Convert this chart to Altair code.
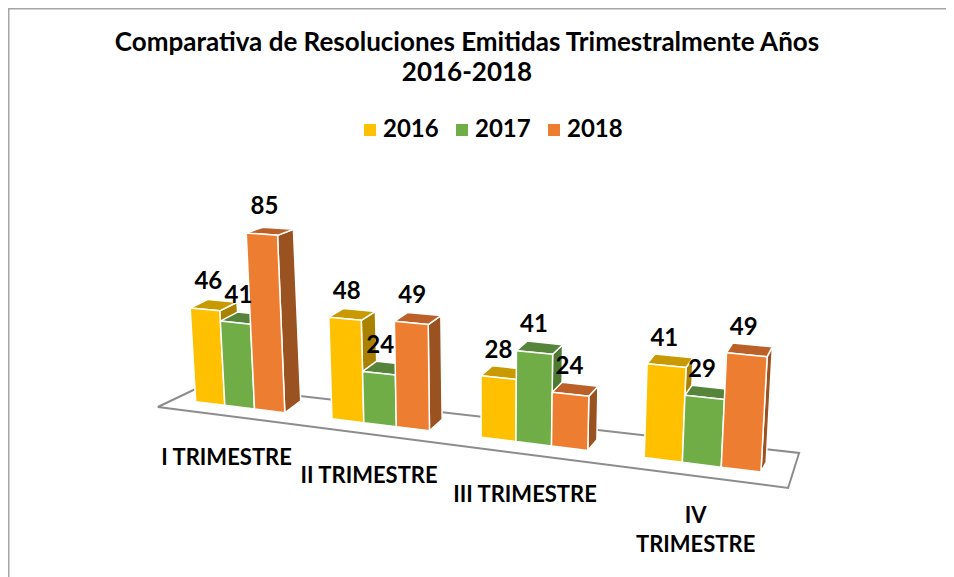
import altair as alt
import pandas as pd

TITLE = ["Comparativa de Resoluciones Emitidas Trimestralmente Años", "2016-2018"]
QUARTERS = ["I TRIMESTRE", "II TRIMESTRE", "III TRIMESTRE", "IV\nTRIMESTRE"]
YEARS = ["2016", "2017", "2018"]
V2016 = [46, 48, 28, 41]
V2017 = [41, 24, 41, 29]
V2018 = [85, 49, 24, 49]
SERIES = [V2016, V2017, V2018]
FRONT = ["#FFC000", "#70AD47", "#ED7D31"]
TOP = ["#C89A00", "#55843A", "#BC6029"]
SIDE = ["#AA8200", "#4E7A33", "#9A5220"]
FONT = "Lato"

W, H = 938, 569
R = 1.094
BAR = 0.2213


def front_x(s):
    return -1254.3 + 1450 * R ** s


def project(s, d, v):
    """Oblique perspective: quarter position s, depth d (0/1), value v -> chart units."""
    x = front_x(s)
    y = 401.7 + (x - 195.7) * 0.1245
    px = v * (2.04 + 0.00056 * (x - 200))
    tx = x + px * 0.0002 * (x - 490)
    ty = y - px
    if d:
        t = (x - 280) / 480
        tx += 16 - 0.0224 * (x - 280)
        ty -= (12 - 0.07 * v) * (1 - t) + 10 * t
    return tx, ty


rows = []
labels = []
for c, q in enumerate(QUARTERS):
    for i, year in enumerate(YEARS):
        v = SERIES[i][c]
        s0, s1 = c + i * BAR, c + (i + 1) * BAR
        faces = {
            "side": [(s1, 0, 0), (s1, 1, 0), (s1, 1, v), (s1, 0, v)],
            "top": [(s0, 0, v), (s1, 0, v), (s1, 1, v), (s0, 1, v)],
            "front": [(s0, 0, 0), (s1, 0, 0), (s1, 0, v), (s0, 0, v)],
        }
        for name, pts in faces.items():
            key = year if name == "front" else f"{year} {name}"
            for n, p in enumerate(pts + pts[:1]):
                px, py = project(*p)
                rows.append(dict(face=f"{c}-{i}-{name}", key=key, n=n, x=px, y=py))
        lx, ly = project((s0 + s1) / 2, 0, v)
        labels.append(dict(x=lx + (490 - lx) * 0.012, y=ly - 27, t=str(v)))

cat_rows = []
for c, q in enumerate(QUARTERS):
    cx, cy = project(c + 1.5 * BAR, 0, 0)
    cat_rows.append(dict(x=cx - 13 + (cx - 240) * 0.015, y=cy + 41, t=q))

floor_rows = []
S0, S1 = -0.295, 3.813
for n, (s, d) in enumerate([(S0, 0), (S1, 0), (S1, 1), (S0, 1), (S0, 0)]):
    x, y = project(s, 0, 0)
    t = (s - S0) / (S1 - S0)
    if d:
        x, y = x + 46 - 35 * t, y + 10 + 2.5 * t - 22 - 13 * t
    else:
        y += 10 + 2.5 * t
    floor_rows.append(dict(n=n, x=x, y=y))

xs = alt.Scale(domain=[8, 8 + W], range=[0, W], nice=False, zero=False)
ys = alt.Scale(domain=[8 + H, 8], range=[H, 0], nice=False, zero=False)
X = alt.X("x:Q", scale=xs, axis=None)
Y = alt.Y("y:Q", scale=ys, axis=None)

keys = YEARS + [f"{y} top" for y in YEARS] + [f"{y} side" for y in YEARS]
colors = FRONT + TOP + SIDE

frame = alt.Chart(pd.DataFrame({"x": [8.5, 8.5, 8 + W], "y": [8 + H, 8.5, 8.5], "n": [0, 1, 2]})).mark_line(
    color="#A6A6A6", strokeWidth=2).encode(X, Y, order="n:Q")

floor = alt.Chart(pd.DataFrame(floor_rows)).mark_line(color="#8C8C8C", strokeWidth=2).encode(X, Y, order="n:Q")

bars = alt.Chart(pd.DataFrame(rows)).mark_line(stroke="#FFFFFF", strokeWidth=1.5, strokeJoin="round").encode(
    X, Y,
    order="n:Q",
    detail="face:N",
    fill=alt.Fill(
        "key:N",
        scale=alt.Scale(domain=keys, range=colors),
        legend=alt.Legend(
            values=YEARS, title=None, orient="none", direction="horizontal",
            legendX=350, legendY=110, symbolType="square", symbolSize=144,
            symbolStrokeWidth=0, labelFont=FONT, labelFontWeight="bold",
            labelFontSize=24, labelColor="#000000", columnPadding=11,
            labelOffset=1,
        ),
    ),
)

vals = alt.Chart(pd.DataFrame(labels)).mark_text(
    font=FONT, fontWeight="bold", fontSize=24, color="#000000", baseline="middle"
).encode(X, Y, text="t:N")

cats = alt.Chart(pd.DataFrame(cat_rows)).mark_text(
    font=FONT, fontWeight="bold", fontSize=22, color="#000000", baseline="top",
    lineBreak="\n", lineHeight=29,
).encode(X, Y, text="t:N")

chart = alt.layer(frame, floor, bars, vals, cats).properties(
    width=W, height=H,
    autosize=alt.AutoSizeParams(type="none"),
    padding=0,
    background="#FFFFFF",
    title=alt.TitleParams(
        text=TITLE, font=FONT, fontWeight="bold", fontSize=26, color="#000000",
        anchor="middle", lineHeight=30, baseline="top", dx=-10, dy=85,
    ),
).configure_view(stroke=None)

chart.save("out.html", embed_options={"renderer": "svg", "actions": False})
